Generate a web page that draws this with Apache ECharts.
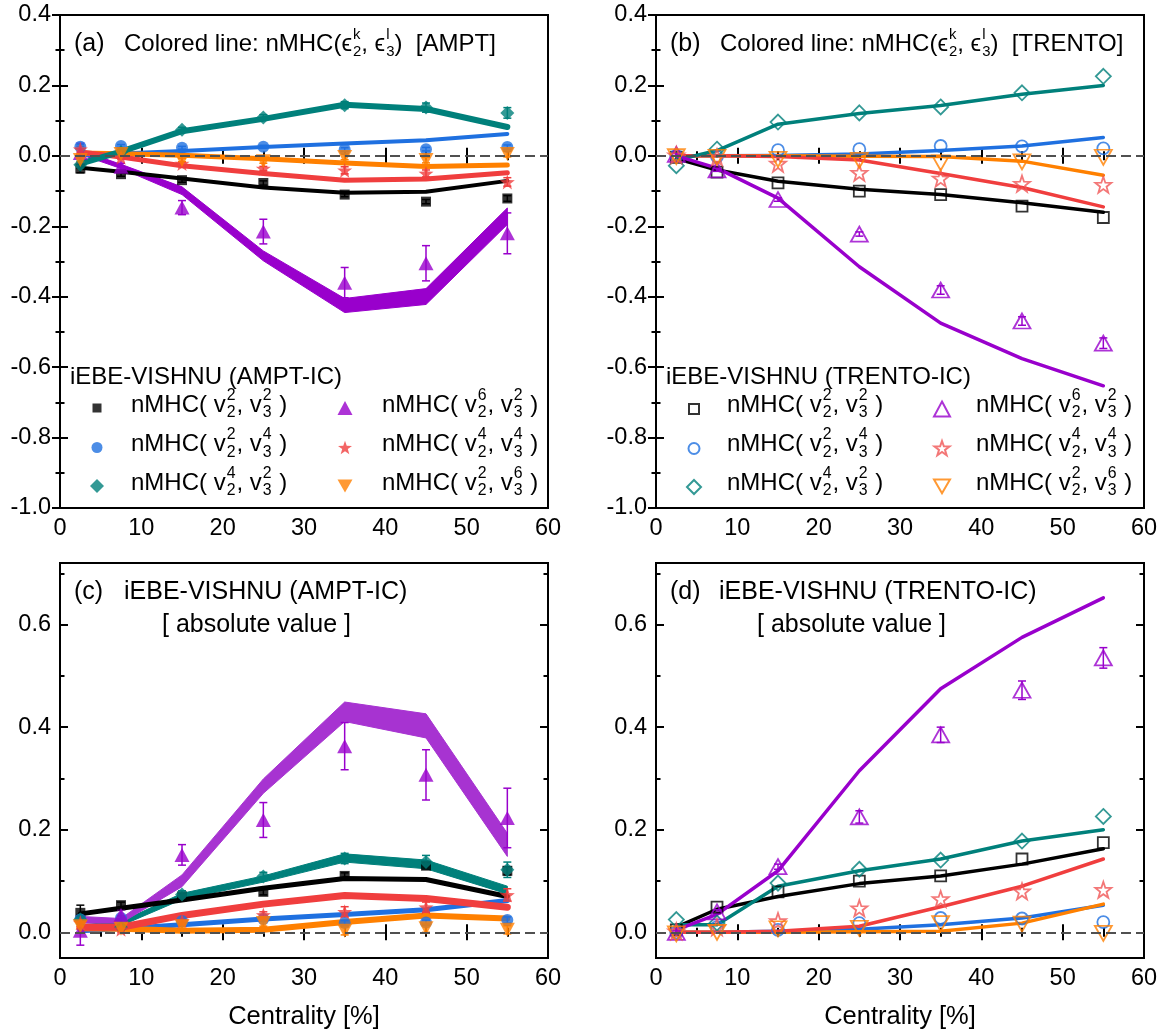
<!DOCTYPE html>
<html><head><meta charset="utf-8">
<script src="https://cdn.jsdelivr.net/npm/echarts@6/dist/echarts.min.js"></script>
<style>html,body{margin:0;padding:0;background:#fff}#c{width:1166px;height:1036px}</style>
</head><body><div id="c"></div><script>
// ---------------- DATA ----------------
const cent = [2.5, 7.5, 15, 25, 35, 45, 55];
const xTicks = [0, 10, 20, 30, 40, 50, 60];
const yTicksTop = [-1.0, -0.8, -0.6, -0.4, -0.2, 0.0, 0.2, 0.4];
const yTicksBottom = [0.0, 0.2, 0.4, 0.6];
const yMinorBottom = [0.1, 0.3, 0.5, 0.7];

// Panel (a) AMPT-IC (signed)
const aBlackPts  = [-0.036, -0.052, -0.069, -0.077, -0.110, -0.130, -0.121];
const aBlackErr  = [0.012, 0.006, 0.006, 0.006, 0.006, 0.006, 0.008];
const aBluePts   = [0.026, 0.028, 0.023, 0.026, 0.018, 0.019, 0.025];
const aBlueErr   = [0.006, 0.004, 0.004, 0.004, 0.005, 0.005, 0.006];
const aTealPts   = [-0.025, 0.010, 0.074, 0.109, 0.144, 0.137, 0.122];
const aTealErr   = [0.010, 0.005, 0.007, 0.008, 0.010, 0.013, 0.015];
const aPurplePts = [0.008, -0.031, -0.147, -0.215, -0.360, -0.305, -0.220];
const aPurpleErr = [0.028, 0.010, 0.020, 0.035, 0.043, 0.050, 0.058];
const aRedPts    = [0.019, -0.004, -0.022, -0.036, -0.041, -0.050, -0.074];
const aRedErr    = [0.008, 0.005, 0.005, 0.006, 0.010, 0.010, 0.012];
const aOrangePts = [-0.012, 0.005, -0.012, -0.015, -0.003, -0.012, 0.005];
const aOrangeErr = [0.006, 0.004, 0.005, 0.006, 0.008, 0.008, 0.008];
const aBlackLine  = [-0.034, -0.045, -0.064, -0.090, -0.105, -0.102, -0.071];
const aBlueLine   = [0.002, 0.007, 0.014, 0.025, 0.035, 0.044, 0.062];
const aTealLine   = [-0.022, 0.012, 0.070, 0.105, 0.145, 0.133, 0.082];
const aRedLine    = [0.011, -0.003, -0.028, -0.050, -0.069, -0.066, -0.048];
const aOrangeLine = [0.008, 0.006, 0.002, -0.008, -0.020, -0.030, -0.026];
const aPurpleLow  = [0.004, -0.036, -0.110, -0.298, -0.445, -0.422, -0.195];
const aPurpleHigh = [0.016, -0.024, -0.088, -0.270, -0.405, -0.377, -0.148];

// Panel (b) TRENTO-IC (signed)
const bBlackPts  = [-0.004, -0.046, -0.077, -0.100, -0.110, -0.143, -0.175];
const bBluePts   = [0.000, -0.002, 0.016, 0.019, 0.028, 0.027, 0.021];
const bTealPts   = [-0.028, 0.019, 0.096, 0.122, 0.139, 0.179, 0.226];
const bPurplePts = [0.004, -0.040, -0.124, -0.222, -0.381, -0.469, -0.532];
const bPurpleErr = [0.003, 0.004, 0.005, 0.006, 0.012, 0.012, 0.015];
const bRedPts    = [0.002, -0.004, -0.022, -0.048, -0.064, -0.079, -0.082];
const bOrangePts = [-0.002, -0.004, -0.010, -0.013, -0.020, -0.017, -0.004];
const bBlackLine  = [-0.008, -0.040, -0.072, -0.095, -0.110, -0.133, -0.160];
const bBlueLine   = [0.000, 0.000, 0.001, 0.005, 0.015, 0.028, 0.052];
const bTealLine   = [-0.012, 0.015, 0.090, 0.120, 0.143, 0.175, 0.200];
const bRedLine    = [0.000, 0.000, -0.002, -0.012, -0.050, -0.090, -0.145];
const bOrangeLine = [0.000, 0.000, 0.000, -0.001, -0.002, -0.015, -0.055];
const bPurpleLine = [0.000, -0.035, -0.120, -0.315, -0.475, -0.576, -0.653];

// Panel (c) AMPT-IC (absolute value)
const cBlackPts  = [0.038, 0.053, 0.070, 0.079, 0.110, 0.130, 0.120];
const cBlackErr  = [0.015, 0.006, 0.006, 0.006, 0.006, 0.006, 0.008];
const cBluePts   = [0.025, 0.028, 0.022, 0.026, 0.018, 0.019, 0.024];
const cBlueErr   = [0.006, 0.004, 0.004, 0.004, 0.005, 0.005, 0.006];
const cTealPts   = [0.025, 0.010, 0.074, 0.109, 0.144, 0.137, 0.122];
const cTealErr   = [0.010, 0.005, 0.007, 0.008, 0.010, 0.013, 0.015];
const cPurplePts = [0.003, 0.034, 0.151, 0.219, 0.363, 0.307, 0.223];
const cPurpleErr = [0.028, 0.010, 0.020, 0.034, 0.046, 0.049, 0.058];
const cRedPts    = [0.019, 0.006, 0.022, 0.034, 0.040, 0.049, 0.073];
const cRedErr    = [0.008, 0.005, 0.005, 0.006, 0.010, 0.010, 0.012];
const cOrangePts = [0.012, 0.007, 0.012, 0.018, 0.003, 0.008, 0.005];
const cOrangeErr = [0.006, 0.004, 0.005, 0.006, 0.008, 0.008, 0.008];
const cBlackLine  = [0.036, 0.047, 0.063, 0.086, 0.105, 0.103, 0.070];
const cBlueLine   = [0.003, 0.007, 0.015, 0.026, 0.035, 0.044, 0.062];
const cRedLine    = [0.010, 0.010, 0.033, 0.055, 0.072, 0.066, 0.049];
const cOrangeLine = [0.008, 0.007, 0.003, 0.005, 0.020, 0.033, 0.027];
const cTealLow    = [0.020, 0.013, 0.064, 0.098, 0.137, 0.124, 0.075];
const cTealHigh   = [0.030, 0.021, 0.076, 0.110, 0.153, 0.141, 0.090];
const cPurpleLow  = [0.018, 0.018, 0.089, 0.271, 0.411, 0.379, 0.148];
const cPurpleHigh = [0.031, 0.027, 0.112, 0.299, 0.449, 0.426, 0.193];

// Panel (d) TRENTO-IC (absolute value)
const dBlackPts  = [0.005, 0.049, 0.079, 0.100, 0.110, 0.143, 0.175];
const dBluePts   = [0.000, 0.010, 0.005, 0.018, 0.028, 0.027, 0.020];
const dTealPts   = [0.025, 0.018, 0.096, 0.123, 0.141, 0.178, 0.226];
const dPurplePts = [0.000, 0.040, 0.128, 0.225, 0.385, 0.472, 0.535];
const dPurpleErr = [0.003, 0.004, 0.005, 0.012, 0.015, 0.018, 0.020];
const dRedPts    = [0.002, 0.010, 0.022, 0.047, 0.065, 0.080, 0.083];
const dOrangePts = [-0.003, 0.000, 0.007, 0.008, 0.017, 0.016, -0.002];
const dBlackLine  = [0.010, 0.045, 0.070, 0.095, 0.110, 0.133, 0.163];
const dBlueLine   = [0.000, 0.000, 0.002, 0.006, 0.015, 0.028, 0.053];
const dTealLine   = [0.015, 0.015, 0.090, 0.120, 0.143, 0.178, 0.200];
const dRedLine    = [0.000, 0.000, 0.002, 0.012, 0.050, 0.090, 0.143];
const dOrangeLine = [0.000, 0.000, 0.000, 0.001, 0.002, 0.018, 0.055];
const dPurpleLine = [0.005, 0.035, 0.120, 0.315, 0.475, 0.575, 0.652];

// ---------------- STYLE ----------------
const FF = '"Liberation Sans", Arial, "DejaVu Sans", sans-serif';
const C_BLACK = '#000000', C_BLUE = '#1f70e0', C_TEAL = '#00807b', C_RED = '#f03e3e',
      C_ORANGE = '#ff8000', C_PURPLE = '#9900cc', C_PURPLE_BAND = '#a733d1', C_RED_H = '#f05555';
const STAR = 'path://M0,-10L2.35,-3.24L9.51,-3.09L3.8,1.24L5.88,8.09L0,4L-5.88,8.09L-3.8,1.24L-9.51,-3.09L-2.35,-3.24Z';
const DOWN = 'path://M-10,-8.66L10,-8.66L0,8.66Z';
const FS_TICK = 23.5, FS_TITLE = 25, FS_MTITLE = 24, FS_LEGH = 24, FS_LEG = 24, FS_NAME = 25.5;

const grids = [
  {left: 60,  top: 15,  width: 488, height: 493},
  {left: 656, top: 15,  width: 488, height: 493},
  {left: 60,  top: 563, width: 488, height: 395},
  {left: 656, top: 563, width: 488, height: 395}
];
const X = [0, 2, 4, 6];
const Y = [0, 2, 4, 8];

const tickLine = {color: '#000', width: 2};
const xAxis = [], yAxis = [];
grids.forEach((gr, g) => {
  ['bottom', 'top'].forEach(pos => {
    xAxis.push({
      type: 'value', gridIndex: g, position: pos, min: xTicks[0], max: xTicks[xTicks.length - 1], interval: 10,
      axisLine: {show: false}, splitLine: {show: false},
      axisTick: {show: true, inside: true, length: 8, lineStyle: tickLine},
      minorTick: {show: true, splitNumber: 2, length: 4.5, lineStyle: tickLine},
      axisLabel: {show: pos === 'bottom', color: '#000', fontSize: FS_TICK, fontFamily: FF, margin: 9},
      name: (pos === 'bottom' && g >= 2) ? 'Centrality [%]' : '',
      nameLocation: 'middle', nameGap: 46,
      nameTextStyle: {color: '#000', fontSize: FS_NAME, fontFamily: FF}
    });
  });
  const fmt = v => (Math.abs(v) < 1e-9 ? 0 : v).toFixed(1);
  if (g < 2) {
    ['left', 'right'].forEach(pos => {
      yAxis.push({
        type: 'value', gridIndex: g, position: pos, min: yTicksTop[0], max: yTicksTop[yTicksTop.length - 1], interval: 0.2,
        axisLine: {show: false}, splitLine: {show: false},
        axisTick: {show: true, inside: true, length: 8, lineStyle: tickLine},
        minorTick: {show: true, splitNumber: 2, length: 4.5, lineStyle: tickLine},
        axisLabel: {show: pos === 'left', color: '#000', fontSize: FS_TICK, fontFamily: FF, margin: 9, formatter: fmt}
      });
    });
  } else {
    ['left', 'right'].forEach(pos => {
      yAxis.push({
        type: 'value', gridIndex: g, position: pos, min: -0.05, max: 0.72,
        axisLine: {show: false}, splitLine: {show: false},
        axisTick: {show: true, inside: true, length: 8, lineStyle: tickLine, customValues: yTicksBottom},
        minorTick: {show: false},
        axisLabel: {show: pos === 'left', color: '#000', fontSize: FS_TICK, fontFamily: FF, margin: 9, formatter: fmt, customValues: yTicksBottom}
      });
      yAxis.push({
        type: 'value', gridIndex: g, position: pos, min: -0.05, max: 0.72,
        axisLine: {show: false}, splitLine: {show: false},
        axisTick: {show: true, inside: true, length: 4.5, lineStyle: tickLine, customValues: yMinorBottom},
        minorTick: {show: false},
        axisLabel: {show: false, customValues: yMinorBottom}
      });
    });
  }
});

const series = [];
const zeroMark = {
  silent: true, symbol: 'none', label: {show: false}, animation: false,
  lineStyle: {type: [10, 5], color: '#505050', width: 2}, data: [{yAxis: 0}]
};
function addLine(g, vals, color, width, zero) {
  const s = {type: 'line', xAxisIndex: X[g], yAxisIndex: Y[g], silent: true, animation: false,
    data: cent.map((c, i) => [c, vals[i]]), symbol: 'none', z: 2,
    lineStyle: {color: color, width: width, cap: 'round', join: 'round'}};
  if (zero) s.markLine = zeroMark;
  series.push(s);
}
function addBand(g, lo, hi, color) {
  series.push({type: 'custom', xAxisIndex: X[g], yAxisIndex: Y[g], silent: true, animation: false, z: 2,
    data: cent.map((c, i) => [c, lo[i], hi[i]]), encode: {x: 0, y: [1, 2]},
    renderItem: (p, api) => {
      if (p.dataIndex !== 0) return null;
      const pts = [];
      for (let i = 0; i < cent.length; i++) pts.push(api.coord([cent[i], hi[i]]));
      for (let i = cent.length - 1; i >= 0; i--) pts.push(api.coord([cent[i], lo[i]]));
      return {type: 'polygon', shape: {points: pts}, style: {fill: color, stroke: color, lineWidth: 1}};
    }});
}
function addErr(g, vals, errs, color) {
  series.push({type: 'custom', xAxisIndex: X[g], yAxisIndex: Y[g], silent: true, animation: false, z: 3,
    data: cent.map((c, i) => [c, vals[i], errs[i]]), encode: {x: 0, y: 1},
    renderItem: (p, api) => {
      const x = api.value(0), y = api.value(1), e = api.value(2);
      const a = api.coord([x, y + e]), b = api.coord([x, y - e]);
      const w = 4, st = {stroke: color, lineWidth: 1.5};
      return {type: 'group', children: [
        {type: 'line', shape: {x1: a[0], y1: a[1], x2: b[0], y2: b[1]}, style: st},
        {type: 'line', shape: {x1: a[0] - w, y1: a[1], x2: a[0] + w, y2: a[1]}, style: st},
        {type: 'line', shape: {x1: b[0] - w, y1: b[1], x2: b[0] + w, y2: b[1]}, style: st}
      ]};
    }});
}
function addPts(g, name, vals, sym, size, color, hollow) {
  series.push({type: 'scatter', name: name, xAxisIndex: X[g], yAxisIndex: Y[g], silent: true, animation: false, z: 4,
    data: cent.map((c, i) => [c, vals[i]]), symbol: sym, symbolSize: size,
    itemStyle: hollow ? {color: 'rgba(255,255,255,0)', borderColor: color, borderWidth: 1.8} : {color: color, borderWidth: 0}});
}

// (a)
addLine(0, aBlackLine, C_BLACK, 4, true);
addLine(0, aBlueLine, C_BLUE, 4);
addLine(0, aOrangeLine, C_ORANGE, 5);
addLine(0, aRedLine, C_RED, 5);
addLine(0, aTealLine, C_TEAL, 6);
addBand(0, aPurpleLow, aPurpleHigh, C_PURPLE);
addErr(0, aBlackPts, aBlackErr, C_BLACK);
addErr(0, aBluePts, aBlueErr, C_BLUE);
addErr(0, aTealPts, aTealErr, C_TEAL);
addErr(0, aPurplePts, aPurpleErr, C_PURPLE);
addErr(0, aRedPts, aRedErr, C_RED);
addErr(0, aOrangePts, aOrangeErr, C_ORANGE);
addPts(0, 'a1', aBlackPts, 'rect', 10, C_BLACK, false);
addPts(0, 'a2', aBluePts, 'circle', 12, C_BLUE, false);
addPts(0, 'a3', aTealPts, 'diamond', 14, C_TEAL, false);
addPts(0, 'a4', aPurplePts, 'triangle', [15, 14], C_PURPLE, false);
addPts(0, 'a5', aRedPts, STAR, 15, C_RED, false);
addPts(0, 'a6', aOrangePts, DOWN, [15, 14], C_ORANGE, false);

// (b)
addLine(1, bBlackLine, C_BLACK, 3.5, true);
addLine(1, bBlueLine, C_BLUE, 3.5);
addLine(1, bOrangeLine, C_ORANGE, 3.5);
addLine(1, bRedLine, C_RED, 3.5);
addLine(1, bTealLine, C_TEAL, 3.5);
addLine(1, bPurpleLine, C_PURPLE, 3.5);
addErr(1, bPurplePts, bPurpleErr, C_PURPLE);
addPts(1, 'b1', bBlackPts, 'rect', 11, C_BLACK, true);
addPts(1, 'b2', bBluePts, 'circle', 12, C_BLUE, true);
addPts(1, 'b3', bTealPts, 'diamond', 15, C_TEAL, true);
addPts(1, 'b4', bPurplePts, 'triangle', [17, 15], C_PURPLE, true);
addPts(1, 'b5', bRedPts, STAR, 16, C_RED_H, true);
addPts(1, 'b6', bOrangePts, DOWN, [17, 15], C_ORANGE, true);

// (c)
addLine(2, cBlackLine, C_BLACK, 5, true);
addLine(2, cBlueLine, C_BLUE, 5);
addLine(2, cOrangeLine, C_ORANGE, 6);
addLine(2, cRedLine, C_RED, 7);
addBand(2, cTealLow, cTealHigh, C_TEAL);
addBand(2, cPurpleLow, cPurpleHigh, C_PURPLE_BAND);
addErr(2, cBlackPts, cBlackErr, C_BLACK);
addErr(2, cBluePts, cBlueErr, C_BLUE);
addErr(2, cTealPts, cTealErr, C_TEAL);
addErr(2, cPurplePts, cPurpleErr, C_PURPLE);
addErr(2, cRedPts, cRedErr, C_RED);
addErr(2, cOrangePts, cOrangeErr, C_ORANGE);
addPts(2, 'c1', cBlackPts, 'rect', 10, C_BLACK, false);
addPts(2, 'c2', cBluePts, 'circle', 12, C_BLUE, false);
addPts(2, 'c3', cTealPts, 'diamond', 14, C_TEAL, false);
addPts(2, 'c4', cPurplePts, 'triangle', [15, 14], C_PURPLE, false);
addPts(2, 'c5', cRedPts, STAR, 15, C_RED, false);
addPts(2, 'c6', cOrangePts, DOWN, [15, 14], C_ORANGE, false);

// (d)
addLine(3, dBlackLine, C_BLACK, 3.5, true);
addLine(3, dBlueLine, C_BLUE, 3.5);
addLine(3, dOrangeLine, C_ORANGE, 3.5);
addLine(3, dRedLine, C_RED, 3.5);
addLine(3, dTealLine, C_TEAL, 3.5);
addLine(3, dPurpleLine, C_PURPLE, 3.5);
addErr(3, dPurplePts, dPurpleErr, C_PURPLE);
addPts(3, 'd1', dBlackPts, 'rect', 11, C_BLACK, true);
addPts(3, 'd2', dBluePts, 'circle', 12, C_BLUE, true);
addPts(3, 'd3', dTealPts, 'diamond', 15, C_TEAL, true);
addPts(3, 'd4', dPurplePts, 'triangle', [17, 15], C_PURPLE, true);
addPts(3, 'd5', dRedPts, STAR, 16, C_RED_H, true);
addPts(3, 'd6', dOrangePts, DOWN, [17, 15], C_ORANGE, true);

// ---------------- LEGENDS (icons) ----------------
const legends = [];
function leg(name, cx, cy, w, h) {
  legends.push({show: true, orient: 'vertical', left: cx - w / 2, top: cy - h / 2, padding: 0,
    itemWidth: w, itemHeight: h, itemGap: 0, selectedMode: false, data: [name],
    formatter: () => '', textStyle: {fontSize: 1}});
}
const rowsY = [408, 447.5, 486];
leg('a1', 97, rowsY[0], 9, 9);   leg('a2', 97, rowsY[1], 11, 11); leg('a3', 97, rowsY[2], 14, 14);
leg('a4', 345, rowsY[0], 15, 14); leg('a5', 345, rowsY[1], 14, 14); leg('a6', 345, rowsY[2], 15, 14);
leg('b1', 693, rowsY[0], 10, 10); leg('b2', 693, rowsY[1], 11, 11); leg('b3', 693, rowsY[2], 14, 14);
leg('b4', 941, rowsY[0], 16, 15); leg('b5', 941, rowsY[1], 15, 15); leg('b6', 941, rowsY[2], 16, 15);

// ---------------- TEXT (titles / legend labels) ----------------
const mctx = document.createElement('canvas').getContext('2d');
function tw(t, fs) { mctx.font = fs + 'px ' + FF; return mctx.measureText(t).width; }
const graphics = [];
function addText(x, y, t, fs) {
  graphics.push({type: 'text', x: x, y: y, silent: true, z: 100,
    style: {text: t, fill: '#000', fontSize: fs, fontFamily: FF,
      align: 'left', verticalAlign: 'middle', textAlign: 'left', textVerticalAlign: 'middle'}});
}
function addMath(x, y, segs, fs, ratio, gap) {
  let cx = x; const sfs = fs * ratio;
  segs.forEach(s => {
    if (typeof s === 'string') { addText(cx, y, s, fs); cx += tw(s, fs); }
    else {
      const w = Math.max(tw(s.sub, sfs), tw(s.sup, sfs));
      addText(cx + 1, y - fs * 0.40, s.sup, sfs);
      addText(cx + 1, y + fs * 0.32, s.sub, sfs);
      cx += w + gap;
    }
  });
}
const legLabels = [
  ['nMHC( v', {sub: '2', sup: '2'}, ', v', {sub: '3', sup: '2'}, ' )'],
  ['nMHC( v', {sub: '2', sup: '2'}, ', v', {sub: '3', sup: '4'}, ' )'],
  ['nMHC( v', {sub: '2', sup: '4'}, ', v', {sub: '3', sup: '2'}, ' )'],
  ['nMHC( v', {sub: '2', sup: '6'}, ', v', {sub: '3', sup: '2'}, ' )'],
  ['nMHC( v', {sub: '2', sup: '4'}, ', v', {sub: '3', sup: '4'}, ' )'],
  ['nMHC( v', {sub: '2', sup: '2'}, ', v', {sub: '3', sup: '6'}, ' )']
];
const legYc = [405, 444.5, 483];
[[131, 382], [727, 976]].forEach((cols) => {
  for (let i = 0; i < 6; i++) addMath(cols[i < 3 ? 0 : 1], legYc[i % 3], legLabels[i], FS_LEG, 0.66, 2);
});
addText(70, 377, 'iEBE-VISHNU (AMPT-IC)', FS_LEGH);
addText(666, 377, 'iEBE-VISHNU (TRENTO-IC)', FS_LEGH);

addText(74, 44, '(a)', FS_TITLE);
addMath(124, 44, ['Colored line: nMHC(', 'ϵ', {sub: '2', sup: 'k'}, ', ϵ', {sub: '3', sup: 'l'}, ')  [AMPT]'], FS_MTITLE, 0.62, 1);
addText(670, 44, '(b)', FS_TITLE);
addMath(720, 44, ['Colored line: nMHC(', 'ϵ', {sub: '2', sup: 'k'}, ', ϵ', {sub: '3', sup: 'l'}, ')  [TRENTO]'], FS_MTITLE, 0.62, 1);

addText(74, 592, '(c)', FS_TITLE);
addText(124, 592, 'iEBE-VISHNU (AMPT-IC)', FS_TITLE);
addText(162, 625, '[ absolute value ]', FS_TITLE);
addText(670, 592, '(d)', FS_TITLE);
addText(719, 592, 'iEBE-VISHNU (TRENTO-IC)', FS_TITLE);
addText(757, 625, '[ absolute value ]', FS_TITLE);

// ---------------- CHART ----------------
const chart = echarts.init(document.getElementById('c'), null, {renderer: 'canvas'});
chart.setOption({
  animation: false,
  backgroundColor: '#fff',
  textStyle: {fontFamily: FF},
  grid: grids.map(g => Object.assign({show: true, borderColor: '#000', borderWidth: 2, backgroundColor: 'transparent', containLabel: false}, g)),
  xAxis: xAxis,
  yAxis: yAxis,
  legend: legends,
  series: series,
  graphic: {elements: graphics}
});
</script></body></html>
